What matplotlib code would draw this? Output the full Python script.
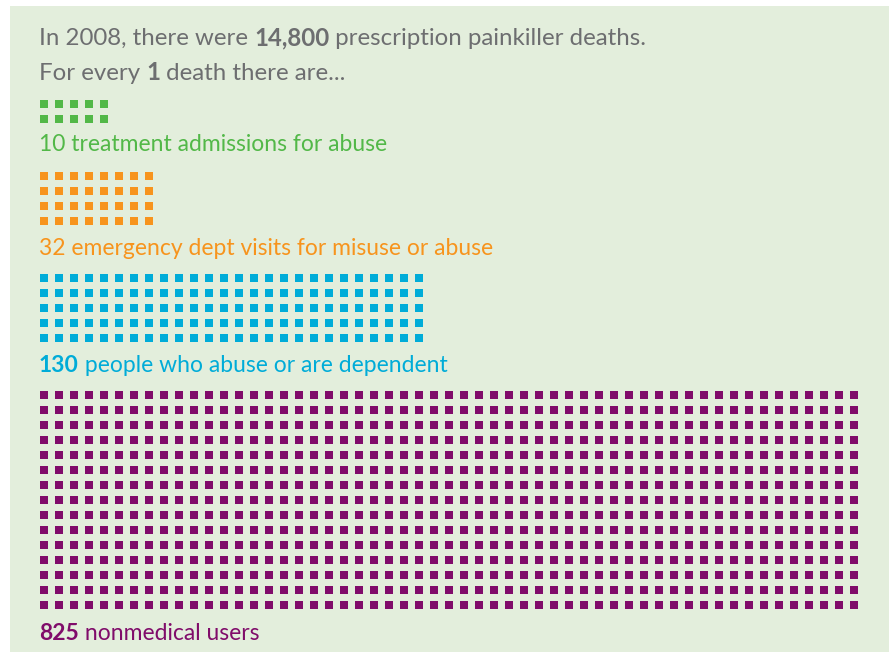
import matplotlib
matplotlib.use('Agg')
import matplotlib.pyplot as plt
from matplotlib.patches import Rectangle

plt.rcParams['font.family'] = ['Lato', 'DejaVu Sans']

# data
counts = [10, 32, 130, 825]
columns = [5, 8, 26, 55]
colors = ['#52b848', '#f7941d', '#00acd8', '#800c6a']
labels = [
    [('10 treatment admissions for abuse', 'normal')],
    [('32 emergency dept visits for misuse or abuse', 'normal')],
    [('130', 'bold'), (' people who abuse or are dependent', 'normal')],
    [('825', 'bold'), (' nonmedical users', 'normal')],
]
header1 = [('In 2008, there were ', 'normal'), ('14,800', 'bold'),
           (' prescription painkiller deaths.', 'normal')]
header2 = [('For every ', 'normal'), ('1', 'bold'), (' death there are...', 'normal')]

# layout (pixels)
W, H = 889, 652
BG = '#e3eedc'
GRAY = '#6d6e70'
FS_HEAD = 17.3
FS_LABEL = 16.5
grid_top = [100, 172, 274, 391]
label_base = [151, 255, 372, 640]
x0 = 39
pitch = 15
sq = 8

fig = plt.figure(figsize=(W / 100, H / 100), dpi=100)
fig.patch.set_facecolor('white')
ax = fig.add_axes([0, 0, 1, 1])
ax.set_xlim(0, W)
ax.set_ylim(H, 0)
ax.axis('off')
ax.add_patch(Rectangle((10, 6), W - 10, H - 6, facecolor=BG, edgecolor='none', zorder=0))

renderer = fig.canvas.get_renderer()


def measure(s, weight, fs):
    a = ax.text(0, 0, '|' + s + '|', fontsize=fs, fontweight=weight)
    b = ax.text(0, 0, '||', fontsize=fs, fontweight=weight)
    w = a.get_window_extent(renderer).width - b.get_window_extent(renderer).width
    a.remove()
    b.remove()
    return w


def draw_parts(x, y, parts, color, fs):
    for s, weight in parts:
        ax.text(x, y, s, fontsize=fs, fontweight=weight, color=color,
                ha='left', va='baseline', zorder=3)
        x += measure(s, weight, fs)


draw_parts(x0, 45, header1, GRAY, FS_HEAD)
draw_parts(x0, 80, header2, GRAY, FS_HEAD)

for n, ncol, col, top, base, parts in zip(counts, columns, colors, grid_top, label_base, labels):
    nrow = n // ncol
    for r in range(nrow):
        xs = [40 + c * pitch for c in range(ncol)]
        ax.bar(xs, sq, width=sq, bottom=top + r * pitch, align='edge',
               color=col, linewidth=0, zorder=2)
    draw_parts(x0, base, parts, col, FS_LABEL)

fig.savefig('out.png', dpi=100, facecolor='white')
